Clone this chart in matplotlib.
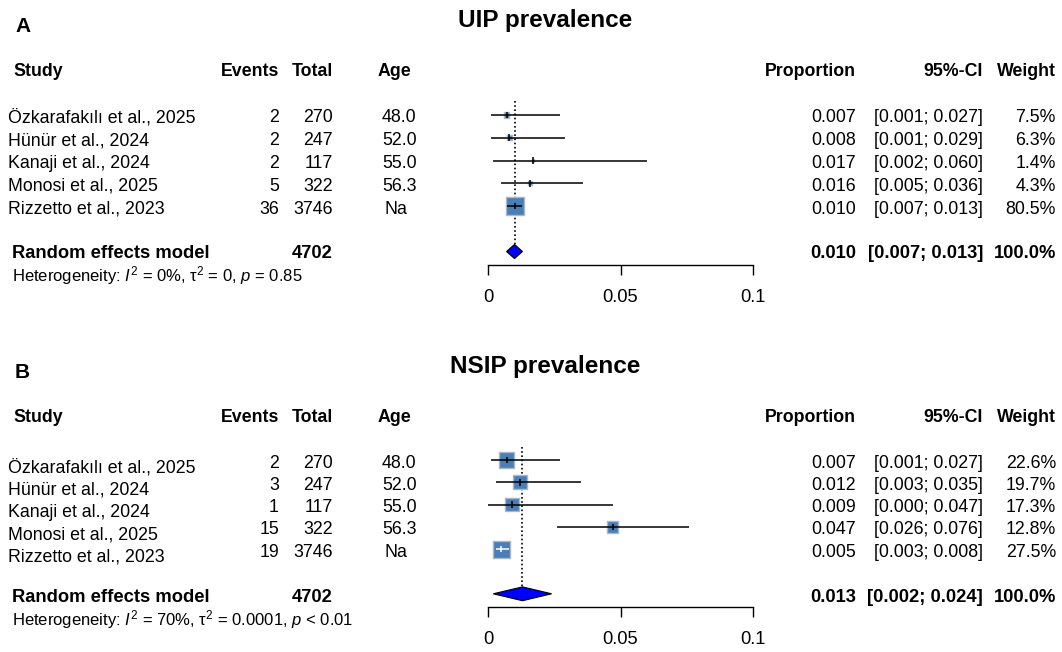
#forest plots of UIP and NSIP prevalence (two panels, meta-style layout)

import numpy as np
import matplotlib
matplotlib.use("Agg")
import matplotlib.pyplot as plt

plt.rcParams['font.family'] = ['Liberation Sans', 'DejaVu Sans']
plt.rcParams['mathtext.fontset'] = 'custom'
plt.rcParams['mathtext.rm'] = 'Liberation Sans'
plt.rcParams['mathtext.it'] = 'Liberation Sans:italic'

# DATA
studies = ["Özkarafakılı et al., 2025", "Hünür et al., 2024", "Kanaji et al., 2024",
           "Monosi et al., 2025", "Rizzetto et al., 2023"]
totals = [270, 247, 117, 322, 3746]
ages = ["48.0", "52.0", "55.0", "56.3", "Na"]
total_all = 4702
tick_vals = [0, 0.05, 0.1]
tick_labels = ["0", "0.05", "0.1"]

uip_events = [2, 2, 2, 5, 36]
uip_prop = [0.007, 0.008, 0.017, 0.016, 0.010]
uip_lo = [0.001, 0.001, 0.002, 0.005, 0.007]
uip_hi = [0.027, 0.029, 0.060, 0.036, 0.013]
uip_weight = [7.5, 6.3, 1.4, 4.3, 80.5]
uip_pooled = [0.010, 0.007, 0.013]
uip_het = r"Heterogeneity: $I^2$ = 0%, τ$^2$ = 0, $p$ = 0.85"

nsip_events = [2, 3, 1, 15, 19]
nsip_prop = [0.007, 0.012, 0.009, 0.047, 0.005]
nsip_lo = [0.001, 0.003, 0.000, 0.026, 0.003]
nsip_hi = [0.027, 0.035, 0.047, 0.076, 0.008]
nsip_weight = [22.6, 19.7, 17.3, 12.8, 27.5]
nsip_pooled = [0.013, 0.002, 0.024]
nsip_het = r"Heterogeneity: $I^2$ = 70%, τ$^2$ = 0.0001, $p$ < 0.01"

W, H = 1062, 652
fig = plt.figure(figsize=(W / 100, H / 100), dpi=100)
bg = fig.add_axes([0, 0, 1, 1])
bg.set_xlim(0, W)
bg.set_ylim(H, 0)
bg.axis('off')

BOX = '#4a7eb4'
BOX_EDGE = '#a8b8c8'
FS = 12.8
FSB = 13.2


def draw_panel(letter, title, events, prop, lo, hi, weight, pooled, het,
               title_y, header_y, row0, step, name_dy, summ_y, het_y,
               max_box, line_cols):
    # texts (pixel layout)
    bg.text(15, title_y + 6, letter, fontsize=15, fontweight='bold', va='center')
    bg.text(545, title_y, title, fontsize=17.5, fontweight='bold', va='center', ha='center')
    for x, s, ha in [(13, "Study", 'left'), (279, "Events", 'right'), (333, "Total", 'right'),
                     (378, "Age", 'left'), (856, "Proportion", 'right'),
                     (983, "95%-CI", 'right'), (1056, "Weight", 'right')]:
        bg.text(x, header_y, s, fontsize=FS, fontweight='bold', ha=ha, va='center')
    for i in range(len(studies)):
        y = row0 + i * step + 3
        bg.text(8, y + name_dy, studies[i], fontsize=FS, va='center')
        bg.text(279, y, str(events[i]), fontsize=FS, ha='right', va='center')
        bg.text(333, y, str(totals[i]), fontsize=FS, ha='right', va='center')
        bg.text(382 if ages[i] != "Na" else 384, y, ages[i], fontsize=FS, va='center')
        bg.text(856, y, "%.3f" % prop[i], fontsize=FS, ha='right', va='center')
        bg.text(983, y, "[%.3f; %.3f]" % (lo[i], hi[i]), fontsize=FS, ha='right', va='center')
        bg.text(1056, y, "%.1f%%" % weight[i], fontsize=FS, ha='right', va='center')
    bg.text(12, summ_y, "Random effects model", fontsize=FSB, fontweight='bold', va='center')
    bg.text(333, summ_y, str(total_all), fontsize=FSB, fontweight='bold', ha='right', va='center')
    bg.text(856, summ_y, "%.3f" % pooled[0], fontsize=FSB, fontweight='bold', ha='right', va='center')
    bg.text(983, summ_y, "[%.3f; %.3f]" % (pooled[1], pooled[2]), fontsize=FSB,
            fontweight='bold', ha='right', va='center')
    bg.text(1056, summ_y, "100.0%", fontsize=FSB, fontweight='bold', ha='right', va='center')
    bg.text(12, het_y, het, fontsize=12, va='center')

    # forest axes
    top, bot = -0.6, 6.6
    y0 = row0 + top * step
    y1 = row0 + bot * step
    x0, x1 = 488, 753
    ax = fig.add_axes([x0 / W, 1 - y1 / H, (x1 - x0) / W, (y1 - y0) / H])
    ax.patch.set_alpha(0)
    ax.set_xlim(0, 0.1)
    ax.set_ylim(bot, top)
    for sp in ['top', 'left', 'right']:
        ax.spines[sp].set_visible(False)
    ax.spines['bottom'].set_linewidth(1)
    ax.set_yticks([])
    ax.set_xticks(tick_vals, tick_labels)
    ax.tick_params(axis='x', direction='out', length=7.5, width=1, pad=10, labelsize=13.2)

    rows = np.arange(len(prop))
    w = np.array(weight)
    side = max_box * 0.72 * np.sqrt(w / w.max())
    ax.scatter(prop, rows, s=side ** 2, marker='s', facecolor=BOX, edgecolor=BOX_EDGE,
               linewidths=1, zorder=3, clip_on=False)
    ax.hlines(rows, lo, hi, colors=line_cols, linewidth=1.1, zorder=4, clip_on=False)
    ax.scatter(prop, rows, s=22, marker='|', c=line_cols, linewidths=1.1, zorder=5, clip_on=False)

    yd, hd = 6, 0.31
    ax.fill([pooled[1], pooled[0], pooled[2], pooled[0]], [yd, yd - hd, yd, yd + hd],
            facecolor='#0000ff', edgecolor='black', linewidth=0.8, zorder=4, clip_on=False)
    ax.vlines(pooled[0], top, yd - hd, colors='black', linestyles=(0, (1, 1.5)),
              linewidth=1.2, zorder=2)


draw_panel("A", "UIP prevalence", uip_events, uip_prop, uip_lo, uip_hi, uip_weight,
           uip_pooled, uip_het, title_y=21, header_y=72, row0=115, step=22.75, name_dy=0,
           summ_y=253, het_y=276, max_box=18,
           line_cols=['black'] * 5)
draw_panel("B", "NSIP prevalence", nsip_events, nsip_prop, nsip_lo, nsip_hi, nsip_weight,
           nsip_pooled, nsip_het, title_y=366, header_y=417, row0=460, step=22.3, name_dy=5,
           summ_y=597, het_y=620, max_box=17,
           line_cols=['black'] * 4 + ['white'])

plt.savefig("out.png", dpi=100)
